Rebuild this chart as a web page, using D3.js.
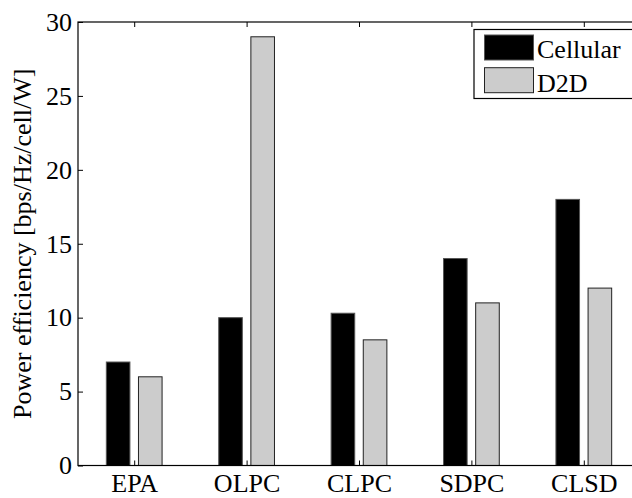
<!DOCTYPE html>
<html>
<head>
<meta charset="utf-8">
<script src="https://cdn.jsdelivr.net/npm/d3@7"></script>
<style>
  html, body { margin: 0; padding: 0; background: #fff; overflow: hidden; }
  svg text { font-family: "Liberation Serif", "Times New Roman", Times, serif; fill: #000; }
</style>
</head>
<body>
<svg id="chart" width="632" height="498"></svg>
<script>
// Power efficiency per scheme, two series
const categories = ["EPA", "OLPC", "CLPC", "SDPC", "CLSD"];
const cellular = [7, 10, 10.3, 14, 18];
const d2d = [6, 29, 8.5, 11, 12];
const seriesNames = ["Cellular", "D2D"];
const yTicks = [0, 5, 10, 15, 20, 25, 30];

const svg = d3.select("#chart");
const plotLeft = 78, plotTop = 22, plotBottom = 465.5;
const plotRight = 640; // plot box continues past the visible edge

const x = d3.scaleLinear().domain([0.5, categories.length + 0.5]).range([plotLeft, plotRight]);
const y = d3.scaleLinear().domain([0, 30]).range([plotBottom, plotTop]);

const series = [
  { name: seriesNames[0], values: cellular, fill: "#000000", stroke: "#555555", offset: -0.143 },
  { name: seriesNames[1], values: d2d, fill: "#cccccc", stroke: "#222222", offset: 0.143 }
];
const barW = 0.21;

// bars
series.forEach(s => {
  svg.append("g").selectAll("rect")
    .data(s.values)
    .join("rect")
    .attr("x", (d, i) => x(i + 1 + s.offset - barW / 2))
    .attr("width", x(barW) - x(0))
    .attr("y", d => y(d))
    .attr("height", d => y(0) - y(d))
    .attr("fill", s.fill)
    .attr("stroke", s.stroke)
    .attr("stroke-width", 1);
});

// axes box
svg.append("rect")
  .attr("x", plotLeft).attr("y", plotTop)
  .attr("width", plotRight - plotLeft).attr("height", plotBottom - plotTop)
  .attr("fill", "none").attr("stroke", "#000").attr("stroke-width", 1.2);

const fontStack = '"Liberation Serif", "Times New Roman", Times, serif';

// y axis (ticks pointing inward)
const yAxis = d3.axisLeft(y).tickValues(yTicks).tickSizeInner(-5).tickSizeOuter(0).tickPadding(6);
const gy = svg.append("g").attr("transform", `translate(${plotLeft},0)`).call(yAxis)
  .attr("font-family", fontStack).attr("font-size", 26);
gy.select(".domain").remove();
gy.selectAll("line").attr("stroke", "#000");

// bottom x axis
const idx = categories.map((c, i) => i + 1);
const xAxis = d3.axisBottom(x).tickValues(idx).tickFormat((d) => categories[d - 1])
  .tickSizeInner(-5).tickSizeOuter(0).tickPadding(8);
const gx = svg.append("g").attr("transform", `translate(0,${plotBottom})`).call(xAxis)
  .attr("font-family", fontStack).attr("font-size", 26);
gx.select(".domain").remove();
gx.selectAll("line").attr("stroke", "#000");

// top ticks
const gt = svg.append("g").attr("transform", `translate(0,${plotTop})`)
  .call(d3.axisTop(x).tickValues(idx).tickFormat("").tickSizeInner(-5).tickSizeOuter(0));
gt.select(".domain").remove();
gt.selectAll("line").attr("stroke", "#000");

// y label
svg.append("text")
  .attr("transform", `translate(31,${(plotTop + plotBottom) / 2}) rotate(-90)`)
  .attr("text-anchor", "middle")
  .attr("font-family", fontStack)
  .attr("font-size", 26)
  .text("Power efficiency [bps/Hz/cell/W]");

// legend
const lg = svg.append("g").attr("font-family", fontStack).attr("font-size", 26);
lg.append("rect")
  .attr("x", 474).attr("y", 29.5).attr("width", 200).attr("height", 69)
  .attr("fill", "#fff").attr("stroke", "#000").attr("stroke-width", 1.2);
series.forEach((s, i) => {
  lg.append("rect")
    .attr("x", 484.5).attr("y", 35 + i * 32.7)
    .attr("width", 49).attr("height", 25)
    .attr("fill", s.fill).attr("stroke", s.stroke);
  lg.append("text")
    .attr("x", 537).attr("y", 57.5 + i * 34.5)
    .text(s.name);
});
</script>
</body>
</html>
